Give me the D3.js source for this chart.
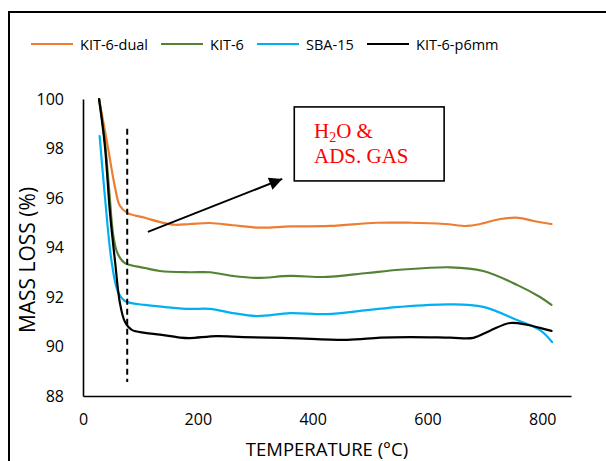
<!DOCTYPE html>
<html>
<head>
<meta charset="utf-8">
<script src="https://cdn.jsdelivr.net/npm/d3@7"></script>
<style>
  body { margin: 0; background: #fff; }
  svg { display: block; font-family: "Open Sans", sans-serif; }
</style>
</head>
<body>
<svg id="chart" width="606" height="461"></svg>
<script>
'use strict';

// data
const seriesNames = ['KIT-6-dual', 'KIT-6', 'SBA-15', 'KIT-6-p6mm'];
const seriesColors = ['#ED7D31', '#548235', '#00B0F0', '#000000'];

const dualT = [28, 43, 56, 64, 77, 108, 134, 160, 186, 221, 261, 308, 361, 430, 512, 570, 630, 669, 692, 727, 758, 785, 816];
const dualV = [100, 98.1, 96.4, 95.7, 95.4, 95.2, 95.03, 94.92, 94.95, 94.99, 94.9, 94.8, 94.85, 94.87, 95.0, 95.0, 94.95, 94.87, 94.95, 95.15, 95.2, 95.07, 94.95];

const kitT = [28, 38, 46, 52, 58, 64, 73, 108, 134, 186, 221, 261, 303, 361, 425, 495, 552, 640, 697, 756, 796, 816];
const kitV = [100, 98.3, 96.2, 94.6, 93.9, 93.6, 93.37, 93.17, 93.05, 93.0, 93.0, 92.85, 92.77, 92.85, 92.81, 92.97, 93.1, 93.2, 93.05, 92.49, 92.0, 91.68];

const sbaT = [29, 38, 50, 61, 73, 108, 150, 186, 221, 261, 303, 361, 425, 495, 552, 640, 697, 756, 796, 817];
const sbaV = [98.5, 96.1, 93.4, 92.2, 91.84, 91.68, 91.58, 91.52, 91.52, 91.35, 91.23, 91.35, 91.31, 91.47, 91.6, 91.7, 91.6, 91.07, 90.66, 90.18];

const p6T = [28, 38, 47, 56, 64, 73, 85, 108, 134, 169, 186, 233, 279, 361, 460, 518, 570, 640, 680, 709, 744, 773, 796, 816];
const p6V = [100, 98.14, 95.4, 93.4, 91.8, 91.0, 90.67, 90.55, 90.48, 90.36, 90.34, 90.42, 90.38, 90.34, 90.27, 90.36, 90.38, 90.36, 90.35, 90.64, 90.95, 90.88, 90.75, 90.63];

const xTicks = [0, 200, 400, 600, 800];
const yTicks = [88, 90, 92, 94, 96, 98, 100];

// annotation anchors in data units
const dashT = 77, dashFrom = 98.8, dashTo = 88.57;
const arrowFrom = [113, 94.63], arrowTo = [347, 96.77];
const boxT = [368, 629], boxV = [99.68, 96.69];

const svg = d3.select('#chart');

const x = d3.scaleLinear().domain([0, 850]).range([83, 571]);
const y = d3.scaleLinear().domain([88, 100]).range([396, 99]);

// outer frame (only top and left edges show)
svg.append('path')
  .attr('d', 'M9,461 L9,12 L606,12')
  .attr('fill', 'none').attr('stroke', '#000').attr('stroke-width', 2);

// axes
const gy = svg.append('g').attr('transform', `translate(${x(0)},0)`)
  .call(d3.axisLeft(y).tickValues(yTicks).tickSize(0).tickPadding(19));
const gx = svg.append('g').attr('transform', `translate(0,${y(88)})`)
  .call(d3.axisBottom(x).tickValues(xTicks).tickSize(0).tickPadding(18));
[gx, gy].forEach(g => {
  g.select('.domain').attr('stroke', '#000').attr('stroke-width', 1.6);
  g.selectAll('text').attr('font-size', 16).attr('fill', '#000')
    .attr('font-family', '"Open Sans", sans-serif');
});

svg.append('text')
  .attr('transform', 'translate(35,260) rotate(-90)')
  .attr('text-anchor', 'middle').attr('font-size', 21)
  .text('MASS LOSS (%)');
svg.append('text')
  .attr('x', 327).attr('y', 456)
  .attr('text-anchor', 'middle').attr('font-size', 18.5)
  .text('TEMPERATURE (°C)');

// curves
const series = [[dualT, dualV], [kitT, kitV], [sbaT, sbaV], [p6T, p6V]];
const line = d3.line().x(d => x(d[0])).y(d => y(d[1])).curve(d3.curveCatmullRom.alpha(0.5));
series.forEach(([ts, vs], i) => {
  svg.append('path')
    .datum(ts.map((t, j) => [t, vs[j]]))
    .attr('d', line)
    .attr('fill', 'none')
    .attr('stroke', seriesColors[i])
    .attr('stroke-width', 2.2)
    .attr('stroke-linecap', 'round');
});

// dashed marker
svg.append('line')
  .attr('x1', x(dashT)).attr('x2', x(dashT))
  .attr('y1', y(dashFrom)).attr('y2', y(dashTo))
  .attr('stroke', '#000').attr('stroke-width', 2)
  .attr('stroke-dasharray', '6,4');

// arrow
svg.append('defs').append('marker')
  .attr('id', 'head').attr('viewBox', '0 0 10 10')
  .attr('refX', 10).attr('refY', 5)
  .attr('markerWidth', 7).attr('markerHeight', 6.5)
  .attr('markerUnits', 'strokeWidth')
  .attr('orient', 'auto')
  .append('path').attr('d', 'M0,0 L10,5 L0,10 Z').attr('fill', '#000');
svg.append('line')
  .attr('x1', x(arrowFrom[0])).attr('y1', y(arrowFrom[1]))
  .attr('x2', x(arrowTo[0])).attr('y2', y(arrowTo[1]))
  .attr('stroke', '#000').attr('stroke-width', 2)
  .attr('marker-end', 'url(#head)');

// annotation box
svg.append('rect')
  .attr('x', x(boxT[0])).attr('y', y(boxV[0]))
  .attr('width', x(boxT[1]) - x(boxT[0]))
  .attr('height', y(boxV[1]) - y(boxV[0]))
  .attr('fill', '#fff').attr('stroke', '#000').attr('stroke-width', 1.6);
const note = svg.append('text')
  .attr('font-family', '"Liberation Serif", "Times New Roman", serif')
  .attr('font-size', 21).attr('fill', '#FF0000');
const l1 = note.append('tspan').attr('x', 314).attr('y', 138);
l1.append('tspan').text('H');
l1.append('tspan').attr('font-size', 14).attr('dy', 4).text('2');
l1.append('tspan').attr('dy', -4).text('O &');
note.append('tspan').attr('x', 314).attr('y', 163).text('ADS. GAS');

// legend
const legendX = [31, 161, 257, 367];
const leg = svg.append('g');
seriesNames.forEach((name, i) => {
  leg.append('line')
    .attr('x1', legendX[i]).attr('x2', legendX[i] + 42)
    .attr('y1', 44).attr('y2', 44)
    .attr('stroke', seriesColors[i]).attr('stroke-width', 2);
  leg.append('text')
    .attr('x', legendX[i] + 49).attr('y', 50)
    .attr('font-size', 14.5).attr('fill', '#000')
    .text(name);
});
</script>
</body>
</html>
